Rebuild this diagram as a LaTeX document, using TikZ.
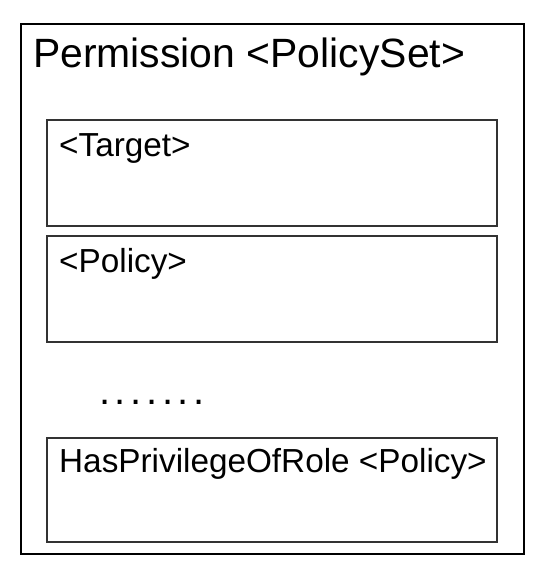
\documentclass[tikz,border=0pt]{standalone}
\usepackage{fontspec}
\setmainfont{Liberation Sans}
\begin{document}
\begin{tikzpicture}[x=1pt,y=-1pt,
  outerbox/.style={draw=black,line width=2pt},
  innerbox/.style={draw=black!80,line width=1.4pt},
  titletext/.style={anchor=base west,inner sep=0pt,font=\fontsize{40.9}{48}\selectfont},
  boxtext/.style={anchor=base west,inner sep=0pt,font=\fontsize{33.3}{39}\selectfont},
  dotstext/.style={anchor=base west,inner sep=0pt,font=\fontsize{40}{44}\selectfont}]
\useasboundingbox (0,0) rectangle (552,578);
\draw[outerbox] (21,24) rectangle (524,554);
\node[titletext] (title) at (33,67) {Permission <PolicySet>};
\draw[innerbox] (47,120) rectangle (497,226);
\node[boxtext] (target) at (59,156) {<Target>};
\draw[innerbox] (47,236) rectangle (497,342);
\node[boxtext] (policy) at (59,272) {<Policy>};
\node[dotstext] (dots) at (99,404) {.\hspace{4.6pt}.\hspace{4.6pt}.\hspace{4.6pt}.\hspace{4.6pt}.\hspace{4.6pt}.\hspace{4.6pt}.};
\draw[innerbox] (47,438) rectangle (497,542);
\node[boxtext] (haspriv) at (59,472) {HasPrivilegeOfRole <Policy>};
\end{tikzpicture}
\end{document}
